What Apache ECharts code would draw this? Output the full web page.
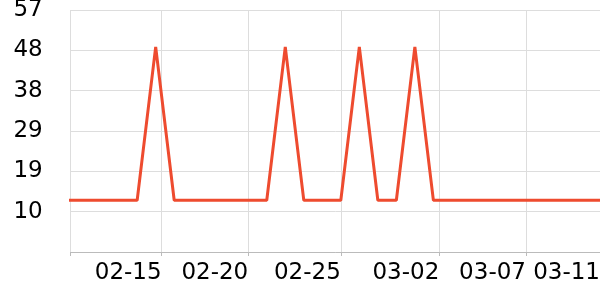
<!DOCTYPE html>
<html>
<head>
<meta charset="utf-8">
<script src="https://cdn.jsdelivr.net/npm/echarts@6/dist/echarts.min.js"></script>
<style>html,body{margin:0;padding:0;background:#fff;overflow:hidden}#c{width:600px;height:300px}</style>
</head>
<body>
<div id="c"></div>
<script>
// Daily dates and values
const dates = [
  '2025-02-10','2025-02-11','2025-02-12','2025-02-13','2025-02-14','2025-02-15',
  '2025-02-16','2025-02-17','2025-02-18','2025-02-19','2025-02-20','2025-02-21',
  '2025-02-22','2025-02-23','2025-02-24','2025-02-25','2025-02-26','2025-02-27',
  '2025-02-28','2025-03-01','2025-03-02','2025-03-03','2025-03-04','2025-03-05',
  '2025-03-06','2025-03-07','2025-03-08','2025-03-09','2025-03-10','2025-03-11'
];
const values = [
  12.2, 12.2, 12.2, 12.2, 12.2, 48.3,
  12.2, 12.2, 12.2, 12.2, 12.2, 12.2,
  48.3, 12.2, 12.2, 12.2, 48.3, 12.2,
  12.2, 48.3, 12.2, 12.2, 12.2, 12.2,
  12.2, 12.2, 12.2, 12.2, 12.2, 12.2
];
// x tick marks (label text is formatted from these)
const tickTimes = ['2025-02-15 07:40','2025-02-20 00:00','2025-02-25 00:00','2025-03-02 07:40','2025-03-07 00:00','2025-03-11 00:00'];
const axisStart = '2025-02-10 09:50';
const axisEnd = '2025-03-11 00:00';
// y axis
const yMin = 0, yMax = 57, yStep = 9.5;

function ts(s) {
  const [d, t] = s.split(' ');
  const [Y, M, D] = d.split('-').map(Number);
  let h = 0, mi = 0;
  if (t) { [h, mi] = t.split(':').map(Number); }
  return Date.UTC(Y, M - 1, D, h, mi);
}
function mmdd(v) {
  const d = new Date(v);
  const p = n => (n < 10 ? '0' : '') + n;
  return p(d.getUTCMonth() + 1) + '-' + p(d.getUTCDate());
}

const seriesData = dates.map((d, i) => [ts(d), values[i]]);
const tickVals = tickTimes.map(ts);
const minT = ts(axisStart), maxT = ts(axisEnd);

const chart = echarts.init(document.getElementById('c'), null, {renderer: 'canvas', width: 600, height: 300});
const font = 'DejaVu Sans';
chart.setOption({
  animation: false,
  grid: {left: 70.7, right: 0, top: 10, bottom: 48, containLabel: false, outerBoundsMode: 'none'},
  xAxis: {
    type: 'value',
    min: minT,
    max: maxT,
    axisLine: {show: true, lineStyle: {color: '#bbb', width: 1}},
    axisTick: {show: true, length: 4, lineStyle: {color: '#bbb'}, customValues: [minT].concat(tickVals)},
    splitLine: {show: true, lineStyle: {color: '#ddd', width: 1}},
    axisLabel: {
      customValues: tickVals,
      align: 'right',
      color: '#000',
      fontFamily: font,
      fontSize: 23,
      margin: 10,
      formatter: v => mmdd(v)
    }
  },
  yAxis: {
    type: 'value',
    min: yMin,
    max: yMax,
    interval: yStep,
    axisLine: {show: false},
    axisTick: {show: false},
    splitLine: {show: true, lineStyle: {color: '#ddd', width: 1}},
    axisLabel: {
      color: '#000',
      fontFamily: font,
      fontSize: 23,
      margin: 28,
      formatter: v => v === 0 ? '' : String(Math.round(v))
    }
  },
  series: [{
    type: 'line',
    data: seriesData,
    showSymbol: false,
    symbol: 'none',
    clip: true,
    lineStyle: {color: '#ee4b2f', width: 3},
    itemStyle: {color: '#ee4b2f'}
  }]
});
</script>
</body>
</html>
